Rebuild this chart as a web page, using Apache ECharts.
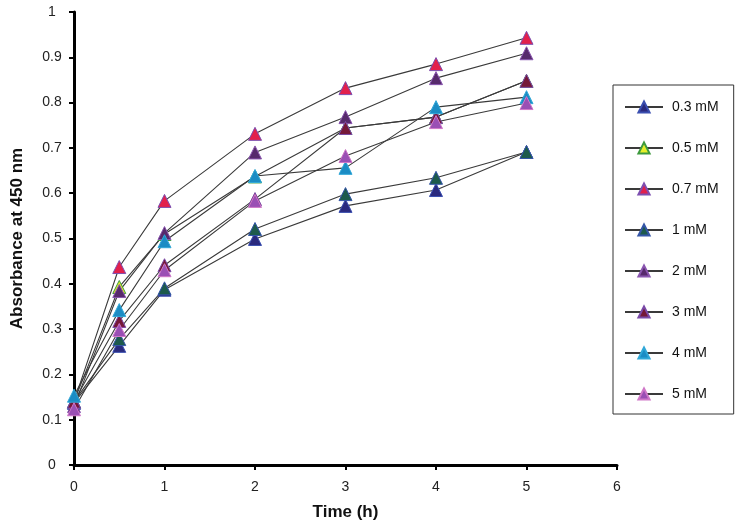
<!DOCTYPE html>
<html>
<head>
<meta charset="utf-8">
<script src="https://cdn.jsdelivr.net/npm/echarts@6/dist/echarts.min.js"></script>
<style>
html,body{margin:0;padding:0;background:#fff;}
#c{width:740px;height:529px;}
</style>
</head>
<body>
<div id="c"></div>
<script>
var times = [0, 0.5, 1, 2, 3, 4, 5];
var seriesNames = ['0.3 mM', '0.5 mM', '0.7 mM', '1 mM', '2 mM', '3 mM', '4 mM', '5 mM'];
var v03 = [0.137, 0.263, 0.387, 0.499, 0.572, 0.607, 0.691];
var v05 = [0.140, 0.393, 0.510, 0.637, 0.744, 0.768, 0.848];
var v07 = [0.140, 0.437, 0.583, 0.731, 0.832, 0.885, 0.943];
var v1  = [0.140, 0.278, 0.390, 0.521, 0.598, 0.634, 0.691];
var v2  = [0.130, 0.384, 0.512, 0.690, 0.768, 0.854, 0.909];
var v3  = [0.140, 0.318, 0.441, 0.587, 0.744, 0.768, 0.848];
var v4  = [0.153, 0.342, 0.494, 0.638, 0.656, 0.790, 0.812];
var v5  = [0.123, 0.298, 0.430, 0.583, 0.682, 0.757, 0.799];
var yTicks = ['0','0.1','0.2','0.3','0.4','0.5','0.6','0.7','0.8','0.9','1'];
var xTicks = ['0','1','2','3','4','5','6'];

var allValues = [v03, v05, v07, v1, v2, v3, v4, v5];
var fills   = ['#2a2a7e', '#e6ef2a', '#e2204c', '#1d5a4c', '#572a6c', '#751838', '#1b8cc4', '#9a4fb4'];
var borders = ['#3b4fb0', '#3e9a3e', '#7d4fb0', '#3556a8', '#8a56b0', '#7a4aa8', '#31a8d8', '#d078c8'];

var font = '"Liberation Sans", Arial, sans-serif';

var series = seriesNames.map(function (name, i) {
  return {
    name: name,
    type: 'line',
    data: times.map(function (t, j) { return [t, allValues[i][j]]; }),
    symbol: 'triangle',
    symbolSize: 13,
    lineStyle: { color: '#3a3a3a', width: 1.1 },
    itemStyle: { color: fills[i], borderColor: borders[i], borderWidth: 1 },
    emphasis: { disabled: true },
    animation: false
  };
});

var chart = echarts.init(document.getElementById('c'), null, { renderer: 'canvas' });
chart.setOption({
  backgroundColor: '#ffffff',
  animation: false,
  grid: { left: 74, right: 123, top: 12, bottom: 64, containLabel: false },
  xAxis: {
    type: 'value', min: 0, max: 6, interval: 1,
    name: 'Time (h)', nameLocation: 'middle', nameGap: 39,
    nameTextStyle: { fontFamily: font, fontSize: 17, fontWeight: 'bold', color: '#111' },
    axisLine: { lineStyle: { color: '#000', width: 3 } },
    axisTick: { show: true, inside: false, length: 5, lineStyle: { color: '#000', width: 2 } },
    axisLabel: { fontFamily: font, fontSize: 14, color: '#222', margin: 15,
      formatter: function (v) { return xTicks[Math.round(v)]; } },
    splitLine: { show: false }
  },
  yAxis: {
    type: 'value', min: 0, max: 1, interval: 0.1,
    name: 'Absorbance at 450 nm', nameLocation: 'middle', nameGap: 48, nameRotate: 90,
    nameTextStyle: { fontFamily: font, fontSize: 17, fontWeight: 'bold', color: '#111' },
    axisLine: { show: true, lineStyle: { color: '#000', width: 3 } },
    axisTick: { show: true, inside: false, length: 5, lineStyle: { color: '#000', width: 2 } },
    axisLabel: { fontFamily: font, fontSize: 14, color: '#222', margin: 22, align: 'center',
      formatter: function (v) { return yTicks[Math.round(v * 10)]; } },
    splitLine: { show: false }
  },
  legend: {
    orient: 'vertical',
    left: 613, top: 85,
    padding: [15, 15, 13, 11],
    itemWidth: 38, itemHeight: 14,
    itemGap: 27,
    borderColor: '#333', borderWidth: 1,
    backgroundColor: '#fff',
    textStyle: { fontFamily: font, fontSize: 14, color: '#111', padding: [0, 0, 0, 4] },
    data: seriesNames
  },
  series: series
});
</script>
</body>
</html>
